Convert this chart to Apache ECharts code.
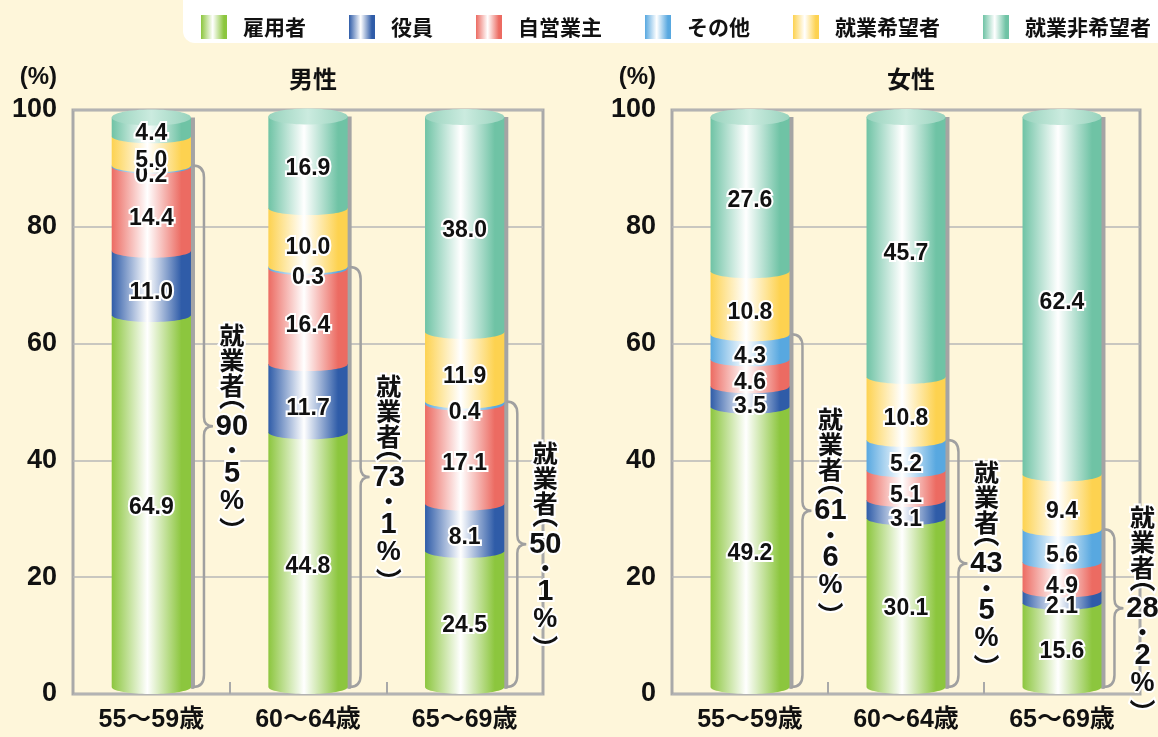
<!DOCTYPE html>
<html>
<head>
<meta charset="utf-8">
<script src="https://cdn.jsdelivr.net/npm/echarts@6/dist/echarts.min.js"></script>
<style>
html,body{margin:0;padding:0;background:#fef6da;}
#chart{width:1158px;height:737px;}
</style>
</head>
<body>
<div id="chart"></div>
<script>
// ---- data ----
const categories = ['55〜59歳', '60〜64歳', '65〜69歳'];
const seriesNames = ['雇用者', '役員', '自営業主', 'その他', '就業希望者', '就業非希望者'];
const panelTitles = ['男性', '女性'];
const yMin = 0, yMax = 100, yStep = 20;

const maleEmployee     = [64.9, 44.8, 24.5];
const maleExecutive    = [11.0, 11.7, 8.1];
const maleSelfEmployed = [14.4, 16.4, 17.1];
const maleOther        = [0.2, 0.3, 0.4];
const maleWantWork     = [5.0, 10.0, 11.9];
const maleNoWant       = [4.4, 16.9, 38.0];
const maleEmployedTotal = [90.5, 73.1, 50.1];

const femaleEmployee     = [49.2, 30.1, 15.6];
const femaleExecutive    = [3.5, 3.1, 2.1];
const femaleSelfEmployed = [4.6, 5.1, 4.9];
const femaleOther        = [4.3, 5.2, 5.6];
const femaleWantWork     = [10.8, 10.8, 9.4];
const femaleNoWant       = [27.6, 45.7, 62.4];
const femaleEmployedTotal = [61.6, 43.5, 28.2];

// ---- styling ----
const colors = ['#8cc63e', '#2f5ca8', '#ec6b62', '#58a8e0', '#fdd250', '#6fc3a5'];
const FONT = "'Liberation Sans', 'Noto Sans CJK JP', sans-serif";
const CJK = "'Noto Sans CJK JP', sans-serif";
const RY = 7;
const BAR_RATIO = 0.253;

function grad(c) {
  return new echarts.graphic.LinearGradient(0, 0, 1, 0, [
    {offset: 0, color: c}, {offset: 0.45, color: '#ffffff'}, {offset: 0.88, color: c}, {offset: 1, color: c}
  ]);
}
function capGrad() {
  return new echarts.graphic.LinearGradient(0, 0, 1, 0, [
    {offset: 0, color: '#98d3bd'}, {offset: 0.5, color: '#cbebdf'}, {offset: 1, color: '#98d3bd'}
  ]);
}

const panels = [
  [maleEmployee, maleExecutive, maleSelfEmployed, maleOther, maleWantWork, maleNoWant],
  [femaleEmployee, femaleExecutive, femaleSelfEmployed, femaleOther, femaleWantWork, femaleNoWant]
];
const employedTotals = [maleEmployedTotal, femaleEmployedTotal];

function stackRows(segs, k) {
  return categories.map((c, i) => {
    let s = 0;
    for (let j = 0; j < k; j++) s += segs[j][i];
    return [i, s, s + segs[k][i], k, segs[k][i]];
  });
}

function renderSeg(params, api) {
  const i = api.value(0), s = api.value(1), e = api.value(2), k = api.value(3);
  const band = api.size([1, 0])[0];
  const rx = band * BAR_RATIO;
  const b = api.coord([i, s]), t = api.coord([i, e]);
  const cx = b[0];
  let yB = b[1], yT = t[1];
  if (k === 0) yB -= RY;
  if (k === 5) yT += RY;
  const pts = [[cx - rx, yT], [cx + rx, yT]];
  for (let n = 0; n <= 40; n++) {
    const a = Math.PI * n / 40;
    pts.push([cx + rx * Math.cos(a), yB + RY * Math.sin(a)]);
  }
  const children = [{type: 'polygon', shape: {points: pts}, style: {fill: grad(colors[k])}}];
  if (k === 5) {
    children.push({type: 'ellipse', shape: {cx: cx, cy: yT, rx: rx, ry: RY + 1}, style: {fill: capGrad()}});
  }
  return {type: 'group', children: children};
}

function renderShadow(params, api) {
  const i = api.value(0), tot = api.value(1);
  const band = api.size([1, 0])[0];
  const rx = band * BAR_RATIO;
  const b = api.coord([i, 0]), t = api.coord([i, tot]);
  const y1 = t[1] + RY, y2 = b[1] - RY + 2;
  return {type: 'rect', shape: {x: b[0] + rx - 1, y: y1, width: 5, height: y2 - y1, r: [0, 0, 3, 3]}, style: {fill: '#a4a4a4'}};
}

function renderLabel(params, api) {
  const i = api.value(0), s = api.value(1), e = api.value(2), k = api.value(3), v = api.value(4);
  const b = api.coord([i, s]), t = api.coord([i, e]);
  const y = (b[1] + t[1]) / 2 + (k === 0 ? 3 : 10);
  return {type: 'text', style: {
    text: v.toFixed(1), x: b[0], y: y, align: 'center', verticalAlign: 'middle',
    fill: '#111', stroke: '#ffffff', lineWidth: 4,
    fontSize: 23, fontWeight: 'bold', fontFamily: FONT
  }};
}

function renderBrace(params, api) {
  const i = api.value(0), tot = api.value(1);
  const band = api.size([1, 0])[0];
  const rx = band * BAR_RATIO;
  const b = api.coord([i, 0]), t = api.coord([i, tot]);
  const x0 = b[0] + rx + 2, x1 = b[0] + rx + 13;
  const yT = t[1], yB = b[1] - RY;
  const mid = (yT + yB) / 2, r = 12, r2 = 9, w = 9;
  const d = 'M' + x0 + ',' + yT + ' Q' + x1 + ',' + yT + ' ' + x1 + ',' + (yT + r) +
    ' L' + x1 + ',' + (mid - r2) + ' Q' + x1 + ',' + mid + ' ' + (x1 + w) + ',' + mid +
    ' Q' + x1 + ',' + mid + ' ' + x1 + ',' + (mid + r2) +
    ' L' + x1 + ',' + (yB - r) + ' Q' + x1 + ',' + yB + ' ' + x0 + ',' + yB;
  const parts = tot.toFixed(1).split('.');
  // vertical text tokens: [text, height, font, size, dy]
  const tokens = [
    ['就', 25, CJK, 25, 0], ['業', 25, CJK, 25, 0], ['者', 25, CJK, 25, 0],
    ['︵', 15, CJK, 26, -8],
    [parts[0], 28, FONT, 29, 0], ['・', 19, CJK, 24, 0], [parts[1], 28, FONT, 29, 0],
    ['%', 27, FONT, 27, 0],
    ['︶', 15, CJK, 26, 8]
  ];
  const total = tokens.reduce((a, tk) => a + tk[1], 0);
  const tx = x1 + 28;
  let y = mid - total / 2;
  const children = [{type: 'path', shape: {pathData: d}, style: {fill: null, stroke: '#a0a0a0', lineWidth: 2.5}}];
  tokens.forEach(tk => {
    const cy = y + tk[1] / 2 + tk[4];
    children.push({type: 'text',
      style: {text: tk[0], x: tx, y: cy, align: 'center', verticalAlign: 'middle',
        fill: '#111', stroke: '#ffffff', lineWidth: 4, fontSize: tk[3], fontWeight: 'bold', fontFamily: tk[2]}});
    y += tk[1];
  });
  return {type: 'group', children: children};
}

const grids = [
  {left: 73, right: 615, top: 110, bottom: 43},
  {left: 672, right: 18, top: 110, bottom: 43}
];
const centers = [ (73 + 543) / 2, (672 + 1140) / 2 ];

const series = [];
panels.forEach((segs, p) => {
  const sums = categories.map((c, i) => segs.reduce((a, arr) => a + arr[i], 0));
  series.push({type: 'custom', name: 'shadow' + p, xAxisIndex: p, yAxisIndex: p, silent: true, z: 1,
    renderItem: renderShadow, data: categories.map((c, i) => [i, sums[i]])});
  segs.forEach((arr, k) => {
    series.push({type: 'custom', name: seriesNames[k], xAxisIndex: p, yAxisIndex: p, z: 2,
      itemStyle: {color: grad(colors[k])}, encode: {x: 0, y: [1, 2]},
      renderItem: renderSeg, data: stackRows(segs, k)});
  });
  series.push({type: 'custom', name: 'brace' + p, xAxisIndex: p, yAxisIndex: p, silent: true, z: 4,
    renderItem: renderBrace, data: categories.map((c, i) => [i, employedTotals[p][i]])});
  let rows = [];
  segs.forEach((arr, k) => { rows = rows.concat(stackRows(segs, k)); });
  series.push({type: 'custom', name: 'labels' + p, xAxisIndex: p, yAxisIndex: p, silent: true, z: 5,
    renderItem: renderLabel, data: rows});
});

const option = {
  backgroundColor: '#fef6da',
  animation: false,
  graphic: [{type: 'rect', left: 183, top: -12, shape: {width: 1000, height: 55, r: 12}, style: {fill: '#ffffff'}, z: -1}],
  legend: {
    data: seriesNames, left: 196, top: 10, itemWidth: 26, itemHeight: 24, itemGap: 43,
    icon: 'rect',
    textStyle: {fontSize: 21, fontWeight: 'bold', color: '#111', fontFamily: CJK, padding: [0, 0, 0, 11]}
  },
  title: panelTitles.map((t, p) => ({
    text: t, left: centers[p], top: 62, textAlign: 'center',
    textStyle: {fontSize: 24, fontWeight: 'bold', color: '#111', fontFamily: CJK}
  })),
  grid: grids.map(g => Object.assign({show: true, borderColor: '#a9a9a9', borderWidth: 3, backgroundColor: 'transparent'}, g)),
  xAxis: grids.map((g, p) => ({
    type: 'category', gridIndex: p, data: categories,
    axisLine: {show: false},
    axisTick: {show: true, inside: true, length: 12, interval: 0, lineStyle: {color: '#a9a9a9', width: 2}},
    axisLabel: {fontSize: 25, fontWeight: 'bold', color: '#111', fontFamily: FONT, margin: 14, interval: 0},
    splitLine: {show: false}
  })),
  yAxis: grids.map((g, p) => ({
    type: 'value', gridIndex: p, min: yMin, max: yMax, interval: yStep,
    name: '(%)', nameLocation: 'end', nameGap: 33,
    nameTextStyle: {fontSize: 24, fontWeight: 'bold', color: '#111', fontFamily: FONT, align: 'right', verticalAlign: 'middle', padding: [0, 16, 0, 0]},
    axisLine: {show: false}, axisTick: {show: false},
    axisLabel: {fontSize: 27, fontWeight: 'bold', color: '#111', fontFamily: FONT, margin: 16},
    splitLine: {show: true, lineStyle: {color: '#b7b7b7', width: 1.5}}
  })),
  series: series
};

const chart = echarts.init(document.getElementById('chart'), null, {renderer: 'canvas'});
chart.setOption(option);
</script>
</body>
</html>
